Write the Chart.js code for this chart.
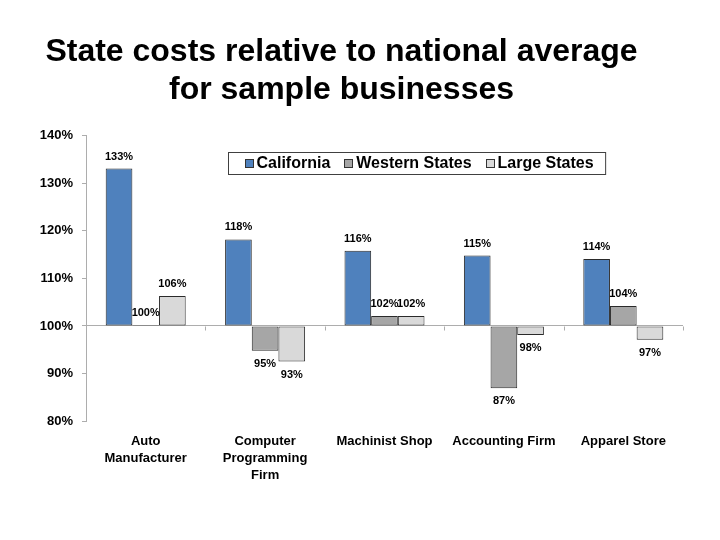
<!DOCTYPE html>
<html>
<head>
<meta charset="utf-8">
<script src="https://cdn.jsdelivr.net/npm/chart.js@4/dist/chart.umd.min.js"></script>
<style>
html,body{margin:0;padding:0;background:#fff;}
#wrap{width:720px;height:540px;}
</style>
</head>
<body>
<div id="wrap"><canvas id="c" width="720" height="540"></canvas></div>
<script>
const categories = [["Auto","Manufacturer"],["Computer","Programming","Firm"],"Machinist Shop","Accounting Firm","Apparel Store"];
const seriesNames = ["California","Western States","Large States"];
const california = [133.1, 118.2, 115.8, 114.8, 114.1];
const western = [100.2, 94.8, 102.1, 86.9, 104.2];
const large = [106.3, 92.5, 102.1, 98.1, 97.1];
const yTicks = [80, 90, 100, 110, 120, 130, 140];
const baseline = 100;
const colors = ["#4F81BD","#A6A6A6","#D9D9D9"];
const FONT = "'Liberation Sans', Arial, sans-serif";
const AXIS_GREY = "#ADADAD";

const labelPlugin = {
  id: 'valueLabels',
  afterDatasetsDraw(chart) {
    const ctx = chart.ctx;
    ctx.save();
    ctx.font = "bold 11px " + FONT;
    ctx.fillStyle = "#000";
    ctx.textAlign = "center";
    ctx.textBaseline = "middle";
    chart.data.datasets.forEach((ds, di) => {
      const meta = chart.getDatasetMeta(di);
      meta.data.forEach((bar, i) => {
        const v = ds.data[i];
        const txt = Math.round(v) + "%";
        const y = v >= baseline ? bar.y - 12 : bar.y + 13;
        ctx.fillText(txt, bar.x, y);
      });
    });
    ctx.restore();
  }
};

const baseLinePlugin = {
  id: 'baseTicks',
  afterDatasetsDraw(chart) {
    const ctx = chart.ctx;
    const xs = chart.scales.x, ys = chart.scales.y;
    const y0 = Math.round(ys.getPixelForValue(baseline)) + 0.5;
    ctx.save();
    ctx.strokeStyle = AXIS_GREY;
    ctx.lineWidth = 1;
    const n = categories.length;
    const step = (xs.right - xs.left) / n;
    for (let i = 1; i <= n; i++) {
      const x = Math.round(xs.left + step * i) + 0.5;
      ctx.beginPath();
      ctx.moveTo(x, y0);
      ctx.lineTo(x, y0 + 4);
      ctx.stroke();
    }
    ctx.restore();
  }
};

const legendPlugin = {
  id: 'boxLegend',
  afterDraw(chart) {
    const ctx = chart.ctx;
    const ca = chart.chartArea;
    const x0 = Math.round(ca.left + 142) + 0.5;
    const y0 = Math.round(ca.top + 16) + 0.5;
    const h = 22;
    ctx.save();
    ctx.font = "bold 16px " + FONT;
    let widths = seriesNames.map(s => ctx.measureText(s).width);
    const padL = 16, mk = 8, gap = 4, itemGap = 14, padR = 12;
    let total = padL + padR;
    widths.forEach((w, i) => { total += mk + gap + w + (i < widths.length - 1 ? itemGap : 0); });
    ctx.fillStyle = "#fff";
    ctx.fillRect(x0, y0, total, h);
    ctx.strokeStyle = "#404040";
    ctx.lineWidth = 1;
    ctx.strokeRect(x0, y0, total, h);
    let x = x0 + padL;
    const cy = y0 + h / 2 + 0.5;
    ctx.textBaseline = "middle";
    ctx.textAlign = "left";
    seriesNames.forEach((s, i) => {
      ctx.fillStyle = colors[i];
      ctx.fillRect(Math.round(x) + 0.5, Math.round(cy - 5) + 0.5, mk, mk);
      ctx.strokeStyle = "#333";
      ctx.strokeRect(Math.round(x) + 0.5, Math.round(cy - 5) + 0.5, mk, mk);
      x += mk + gap;
      ctx.fillStyle = "#000";
      ctx.fillText(s, x, cy);
      x += widths[i] + itemGap;
    });
    ctx.restore();
  }
};

const mkDs = (label, data, color) => ({
  label, data, base: baseline,
  backgroundColor: color,
  borderColor: "#2a2a2a",
  borderWidth: 1,
  borderSkipped: false,
  barPercentage: 1.0,
  categoryPercentage: 0.67
});

new Chart(document.getElementById('c'), {
  type: 'bar',
  data: {
    labels: categories,
    datasets: [
      mkDs(seriesNames[0], california, colors[0]),
      mkDs(seriesNames[1], western, colors[1]),
      mkDs(seriesNames[2], large, colors[2])
    ]
  },
  options: {
    responsive: false,
    animation: false,
    devicePixelRatio: 1,
    layout: { padding: { left: 0, right: 37, top: 0, bottom: 0 } },
    plugins: {
      legend: { display: false },
      tooltip: { enabled: false },
      title: {
        display: true,
        text: ["State costs relative to national average", "for sample businesses"],
        color: "#000",
        font: { family: FONT, size: 32, weight: 'bold', lineHeight: 1.2 },
        padding: { top: 33, bottom: 26 }
      }
    },
    scales: {
      x: {
        grid: { display: false },
        border: { display: false },
        ticks: {
          color: "#000",
          font: { family: FONT, size: 13, weight: 'bold', lineHeight: 1.3 },
          padding: 4,
          maxRotation: 0,
          autoSkip: false
        },
        afterFit(s) { s.height = 119; }
      },
      y: {
        min: 80, max: 140,
        afterBuildTicks(s) { s.ticks = yTicks.map(v => ({ value: v })); },
        grid: {
          drawOnChartArea: true,
          color: c => (c.tick && c.tick.value === baseline) ? AXIS_GREY : 'rgba(0,0,0,0)',
          tickColor: AXIS_GREY,
          tickLength: 4
        },
        border: { display: true, color: AXIS_GREY },
        ticks: {
          color: "#000",
          font: { family: FONT, size: 13, weight: 'bold' },
          padding: 9,
          callback: v => v + "%"
        },
        afterFit(s) { s.width = 86; }
      }
    }
  },
  plugins: [baseLinePlugin, labelPlugin, legendPlugin]
});
</script>
</body>
</html>
